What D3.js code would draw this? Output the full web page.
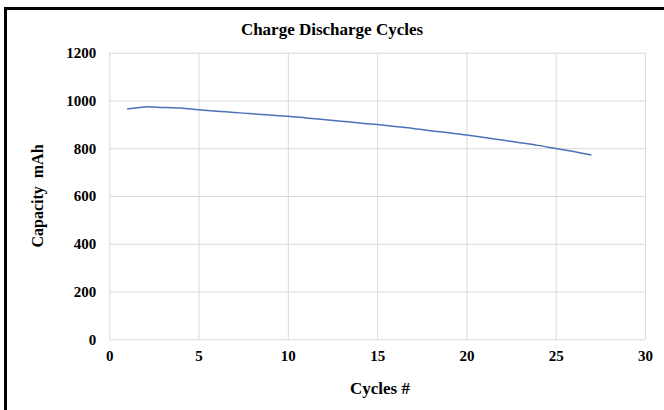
<!DOCTYPE html>
<html>
<head>
<meta charset="utf-8">
<script src="https://cdn.jsdelivr.net/npm/d3@7"></script>
<style>
  html, body { margin: 0; padding: 0; background: #fff; }
  svg { display: block; }
  text { font-family: "Liberation Serif", "Times New Roman", serif; font-weight: bold; fill: #000; }
</style>
</head>
<body>
<svg id="chart" width="664" height="410"></svg>
<script>
const cycles = [1,2,3,4,5,6,7,8,9,10,11,12,13,14,15,16,17,18,19,20,21,22,23,24,25,26,27];
const capacity = [964,973,971,968,961,955,950,944,939,934,927,920,913,906,899,891,883,873,865,855,845,834,823,812,799,786,772];
const xTicks = [0,5,10,15,20,25,30];
const yTicks = [0,200,400,600,800,1000,1200];
const titleText = "Charge Discharge Cycles";
const xTitle = "Cycles #";
const yTitle = "Capacity\u00a0\u00a0mAh";

const svg = d3.select("#chart");
const W = 664, H = 410;
const plot = { left: 109.3, right: 645, top: 52.7, bottom: 339.3 };

svg.append("rect").attr("width", W).attr("height", H).attr("fill", "#fff");
// frame
svg.append("rect")
  .attr("x", 5.5).attr("y", 8.5).attr("width", 720).attr("height", 460)
  .attr("fill", "none").attr("stroke", "#000").attr("stroke-width", 3);

const x = d3.scaleLinear().domain([0, 30]).range([plot.left, plot.right]);
const y = d3.scaleLinear().domain([0, 1200]).range([plot.bottom, plot.top]);

// gridlines
const gx = svg.append("g").attr("transform", `translate(0,${plot.bottom})`)
  .call(d3.axisBottom(x).tickValues(xTicks).tickSize(-(plot.bottom - plot.top)).tickFormat(""));
gx.select(".domain").remove();
gx.selectAll("line").attr("stroke", "#d9d9d9").attr("stroke-width", 1);

const gy = svg.append("g").attr("transform", `translate(${plot.left},0)`)
  .call(d3.axisLeft(y).tickValues(yTicks).tickSize(-(plot.right - plot.left)).tickFormat(""));
gy.select(".domain").remove();
gy.selectAll("line").attr("stroke", "#d9d9d9").attr("stroke-width", 1);

// tick labels
const xl = svg.append("g").attr("transform", `translate(0,${plot.bottom})`)
  .call(d3.axisBottom(x).tickValues(xTicks).tickSize(0).tickPadding(11).tickFormat(d3.format("d")));
xl.select(".domain").remove();
xl.selectAll("text").style("font-family", "Liberation Serif").style("font-weight", "bold").style("font-size", "15px").attr("fill", "#000");

const yl = svg.append("g").attr("transform", `translate(${plot.left},0)`)
  .call(d3.axisLeft(y).tickValues(yTicks).tickSize(0).tickPadding(13).tickFormat(d3.format("d")));
yl.select(".domain").remove();
yl.selectAll("text").style("font-family", "Liberation Serif").style("font-weight", "bold").style("font-size", "15px").attr("fill", "#000");

// line
const line = d3.line()
  .x((d, i) => x(cycles[i]))
  .y(d => y(d))
  .curve(d3.curveCatmullRom.alpha(0.5));
svg.append("path").datum(capacity)
  .attr("d", line).attr("fill", "none")
  .attr("stroke", "#4a72b8").attr("stroke-width", 1.5);

// titles
svg.append("text").attr("x", 332).attr("y", 35).attr("text-anchor", "middle")
  .style("font-size", "17px").text(titleText);
svg.append("text").attr("x", 380).attr("y", 394).attr("text-anchor", "middle")
  .style("font-size", "17px").text(xTitle);
svg.append("text").attr("transform", `translate(43,196) rotate(-90)`).attr("text-anchor", "middle")
  .style("font-size", "16px").text(yTitle);
</script>
</body>
</html>
